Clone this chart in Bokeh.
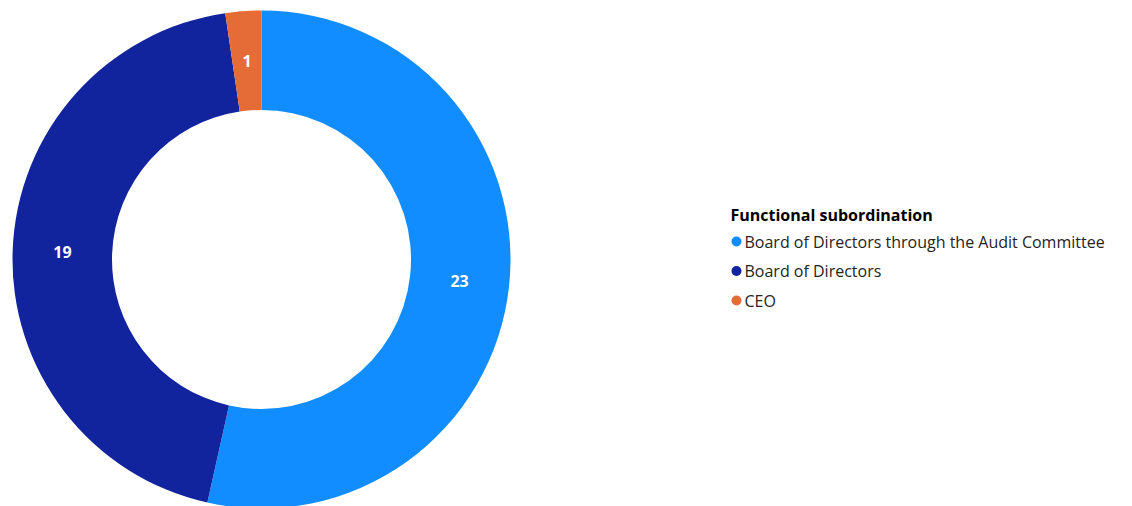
import math
from bokeh.plotting import figure
from bokeh.models import Range1d, ColumnDataSource
from bokeh.core.properties import value
from bokeh.embed import file_html
from bokeh.resources import INLINE

categories = ["Board of Directors through the Audit Committee", "Board of Directors", "CEO"]
counts = [23, 19, 1]
colors = ["#118DFF", "#12239E", "#E66C37"]
legend_title = "Functional subordination"

W, H = 1132, 506
p = figure(width=W, height=H, output_backend="svg", toolbar_location=None,
           x_range=Range1d(0, W), y_range=Range1d(0, H), min_border=0)
p.axis.visible = False
p.grid.visible = False
p.outline_line_color = None
p.background_fill_color = "white"
p.border_fill_color = "white"

cx, cy = 261, H - 259
r_out, r_in = 249, 149.5
total = sum(counts)
starts, ends, mids = [], [], []
acc = 0
for c in counts:
    a0 = math.pi / 2 - 2 * math.pi * acc / total
    a1 = math.pi / 2 - 2 * math.pi * (acc + c) / total
    starts.append(a0)
    ends.append(a1)
    mids.append((a0 + a1) / 2)
    acc += c

r_lab = (r_out + r_in) / 2
src = ColumnDataSource(dict(
    start=starts, end=ends, color=colors,
    lx=[cx + r_lab * math.cos(m) for m in mids],
    ly=[cy + r_lab * math.sin(m) for m in mids],
    lab=[str(c) for c in counts],
))
p.annular_wedge(x=cx, y=cy, inner_radius=r_in, outer_radius=r_out,
                start_angle="start", end_angle="end", direction="clock",
                fill_color="color", line_color=None, source=src)
p.text(x="lx", y="ly", text="lab", source=src, text_color="white",
       text_font=value("Open Sans"), text_font_style="bold", text_font_size="16px",
       text_align="center", text_baseline="middle")

# legend
lx0, ly0 = 730, H - 214
p.text(x=[lx0], y=[ly0], text=[legend_title], text_font=value("Open Sans"),
       text_font_style="bold", text_font_size="16px", text_color="#000000",
       text_align="left", text_baseline="middle")
step = 29.5
iy = [ly0 - 27 - step * i for i in range(len(categories))]
p.scatter(x=[lx0 + 6] * len(categories), y=iy, size=10, marker="circle",
          fill_color=colors, line_color=None)
p.text(x=[lx0 + 14] * len(categories), y=iy, text=categories,
       text_font=value("Open Sans"), text_font_size="16px", text_color="#252423",
       text_align="left", text_baseline="middle")

open("out.html", "w").write(file_html(p, INLINE))
